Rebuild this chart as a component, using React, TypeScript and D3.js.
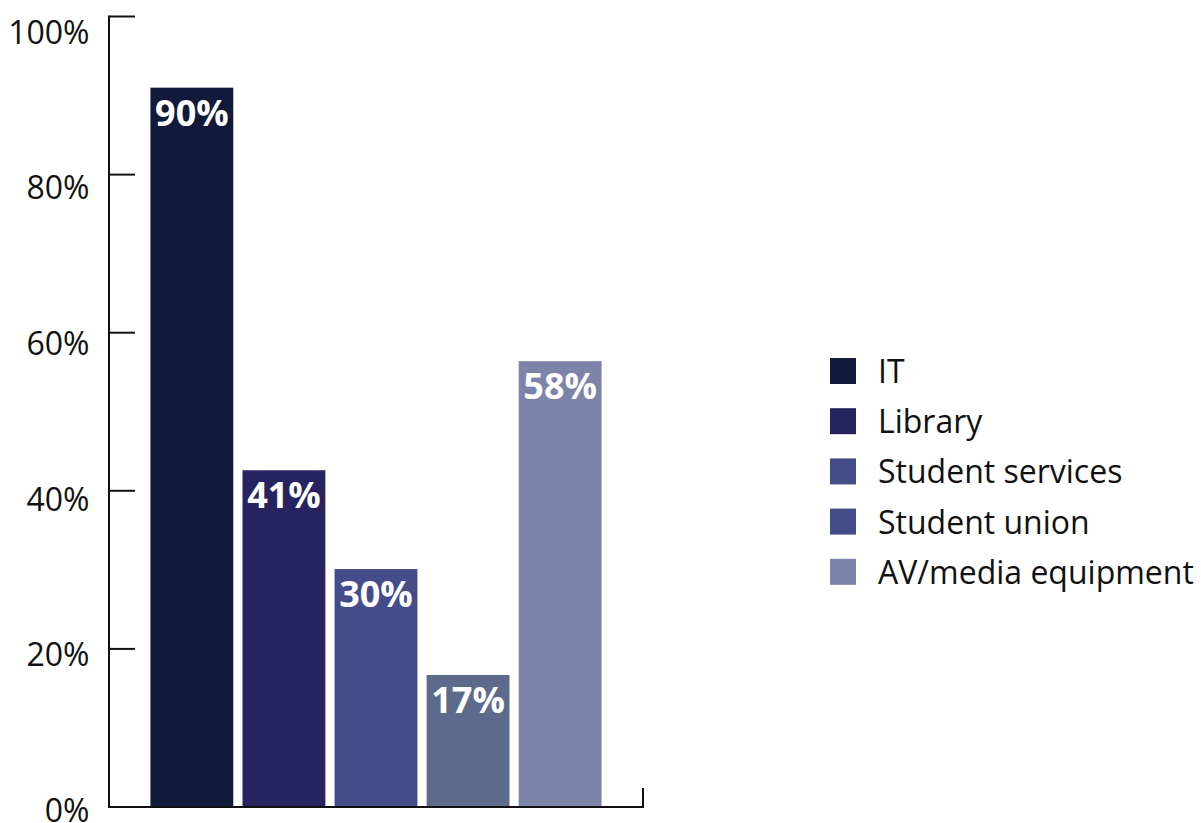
import React from "react";
import * as d3 from "d3";

const categories = ["IT", "Library", "Student services", "Student union", "AV/media equipment"];
const barValues = [91, 42.6, 30.1, 16.7, 56.4];
const barLabels = ["90%", "41%", "30%", "17%", "58%"];
const barColors = ["#111a3a", "#272360", "#444c8a", "#5c6a8b", "#7c84aa"];
const legendColors = ["#111a3a", "#272360", "#444c8a", "#444c8a", "#7c84aa"];
const yTicks = [0, 20, 40, 60, 80, 100];

const W = 1201;
const H = 823;
const FONT = "'Open Sans', 'Noto Sans', sans-serif";

export default function App() {
  const x0 = 109;
  const x1 = 643;
  const yTop = 16.5;
  const yBot = 807;
  const y = d3.scaleLinear().domain([0, 100]).range([yBot, yTop]);
  // tick label baselines are laid out on a slightly tighter scale than the ticks
  const yLab = d3.scaleLinear().domain([0, 100]).range([822, 43.5]);
  const x = d3
    .scaleBand<string>()
    .domain(categories)
    .range([x0, x1])
    .paddingInner(0.1)
    .paddingOuter(0.45);

  return (
    <svg
      width={W}
      height={H}
      style={{ position: "absolute", left: 0, top: 0, background: "#fff" }}
      fontFamily={FONT}
    >
      {categories.map((c, i) => (
        <g key={c}>
          <rect
            x={x(c)}
            y={y(barValues[i])}
            width={x.bandwidth()}
            height={yBot - y(barValues[i])}
            fill={barColors[i]}
          />
          <text
            x={(x(c) as number) + x.bandwidth() / 2}
            y={y(barValues[i]) + 38}
            textAnchor="middle"
            fill="#fff"
            fontWeight={700}
            fontSize={36}
          >
            {barLabels[i]}
          </text>
        </g>
      ))}
      {/* axes */}
      <line x1={x0} x2={x0} y1={yTop - 1} y2={yBot + 1} stroke="#111" strokeWidth={2} />
      <line x1={x0} x2={x1 + 1} y1={yBot} y2={yBot} stroke="#111" strokeWidth={2} />
      <line x1={x1} x2={x1} y1={yBot - 19} y2={yBot + 1} stroke="#111" strokeWidth={2} />
      {yTicks.map((t) => (
        <g key={t}>
          <line x1={x0} x2={x0 + 26} y1={y(t)} y2={y(t)} stroke="#111" strokeWidth={2} />
          <text x={89.5} y={yLab(t)} textAnchor="end" fontSize={32} fill="#111">
            {t + "%"}
          </text>
        </g>
      ))}
      {/* legend */}
      {categories.map((c, i) => {
        const ly = 358 + i * 50.2;
        return (
          <g key={"lg" + c}>
            <rect x={830} y={ly} width={26} height={26} fill={legendColors[i]} />
            <text x={878} y={ly + 25} fontSize={32} fill="#111">
              {c}
            </text>
          </g>
        );
      })}
    </svg>
  );
}
